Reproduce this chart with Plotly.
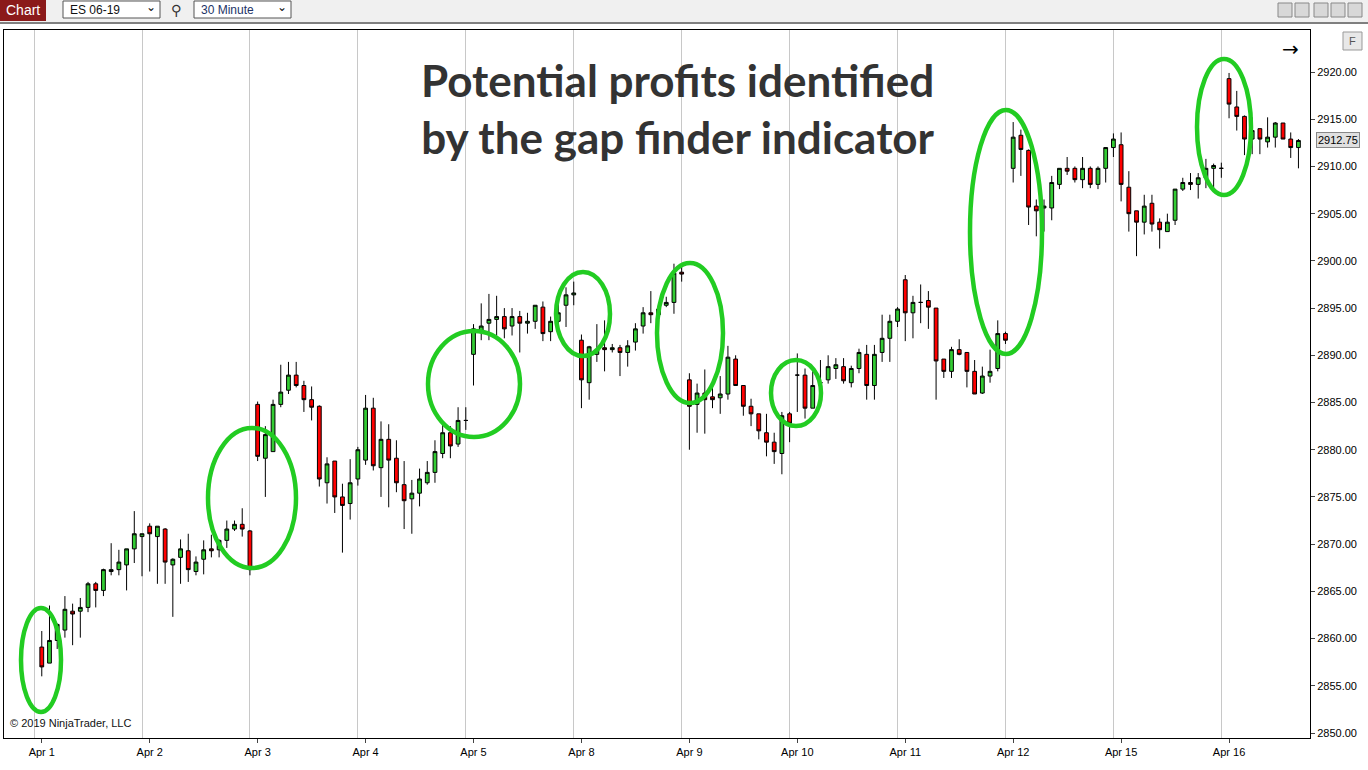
import plotly.graph_objects as go

days = ["Apr 1","Apr 2","Apr 3","Apr 4","Apr 5","Apr 8","Apr 9","Apr 10","Apr 11","Apr 12","Apr 15","Apr 16"]
bars_per_day = 14

opens = [2859.1,2857.4,2859.8,2860.9,2862.9,2862.9,2863.3,2865.8,2865.1,2867.1,2867.3,2867.8,2869.5,2870.8,
2871.9,2870.8,2871.6,2867.8,2868.6,2869.3,2867.1,2868.4,2869.5,2869.4,2870.4,2871.6,2872.1,2871.4,
2884.8,2879.1,2879.8,2884.8,2886.3,2887.9,2886.8,2885.3,2884.6,2876.5,2878.8,2875.0,2874.3,2876.9,
2878.9,2884.4,2878.1,2881.1,2879.1,2876.3,2874.8,2875.4,2876.5,2877.6,2879.6,2881.8,2880.6,2883.1,
2890.1,2892.5,2893.4,2893.8,2894.1,2893.1,2894.1,2893.4,2893.6,2895.1,2892.5,2893.6,2895.3,2896.4,
2891.6,2887.1,2890.1,2890.8,2890.6,2890.8,2890.3,2891.4,2893.1,2894.5,2894.3,2895.3,2895.6,2898.8,
2887.4,2884.8,2886.0,2885.6,2885.5,2885.9,2889.6,2886.8,2884.6,2883.8,2881.8,2880.8,2879.6,2883.8,
2887.9,2887.9,2884.4,2887.1,2887.4,2888.6,2888.8,2887.1,2888.6,2890.1,2886.8,2890.3,2891.8,2893.6,
2898.0,2894.5,2895.6,2895.8,2895.0,2889.6,2888.3,2890.6,2890.3,2888.3,2886.0,2887.8,2888.6,2892.3,
2909.8,2913.3,2911.7,2905.8,2905.6,2905.6,2908.1,2909.8,2909.8,2908.6,2909.8,2908.1,2909.8,2912.0,
2912.3,2907.8,2905.3,2904.1,2906.1,2904.1,2903.1,2904.3,2907.6,2908.3,2908.1,2908.8,2909.8,2909.8,
2919.3,2916.3,2915.3,2912.9,2914.0,2912.6,2913.1,2914.6,2912.9,2912.0]

highs = [2860.8,2863.5,2861.6,2864.5,2863.7,2864.3,2866.0,2866.0,2867.4,2870.1,2869.4,2869.5,2873.5,2871.1,
2872.2,2871.9,2871.7,2868.5,2870.5,2871.1,2868.7,2870.4,2871.0,2870.5,2872.5,2872.5,2873.8,2871.5,
2885.1,2882.5,2885.3,2889.0,2889.3,2889.3,2887.3,2886.7,2884.7,2879.2,2878.8,2876.4,2879.0,2880.3,
2885.8,2885.5,2883.0,2882.7,2881.0,2878.8,2876.8,2878.0,2878.8,2881.0,2882.7,2882.5,2884.5,2884.5,
2893.3,2895.5,2896.5,2896.3,2895.0,2895.0,2894.7,2894.5,2895.3,2895.7,2894.1,2895.5,2897.2,2897.8,
2892.2,2891.0,2893.3,2893.7,2891.2,2891.1,2891.6,2893.4,2895.1,2896.8,2895.6,2896.2,2899.7,2899.7,
2888.1,2887.0,2888.5,2887.0,2887.8,2891.0,2890.0,2886.8,2885.4,2883.8,2883.8,2881.8,2884.0,2884.0,
2890.2,2888.6,2888.3,2889.5,2890.0,2889.7,2889.7,2888.9,2890.7,2891.1,2891.1,2894.3,2894.3,2895.1,
2898.5,2896.3,2897.5,2896.8,2895.0,2889.6,2890.9,2891.7,2890.3,2889.5,2888.8,2890.6,2893.7,2892.5,
2914.7,2913.9,2911.8,2906.5,2906.5,2909.0,2909.8,2911.0,2910.0,2911.0,2910.0,2910.0,2912.0,2913.5,
2913.6,2909.5,2905.3,2907.0,2907.0,2904.5,2905.0,2907.6,2908.8,2909.3,2909.3,2910.8,2910.3,2910.4,
2919.9,2918.0,2915.4,2915.2,2914.0,2915.2,2914.7,2914.6,2913.6,2912.9]

lows = [2856.0,2857.4,2858.9,2860.1,2859.3,2860.1,2862.8,2863.3,2864.5,2866.7,2866.7,2865.1,2868.0,2866.6,
2867.1,2865.8,2865.8,2862.3,2865.8,2866.0,2866.7,2866.8,2868.6,2868.6,2869.6,2871.4,2870.8,2866.7,
2878.8,2875.0,2879.8,2884.5,2885.9,2886.6,2884.0,2883.1,2876.1,2874.3,2873.3,2869.1,2872.6,2876.2,
2878.4,2877.8,2875.0,2873.9,2875.5,2871.6,2871.1,2874.0,2876.3,2876.5,2879.1,2879.1,2880.3,2882.1,
2886.8,2891.6,2891.6,2892.1,2891.8,2892.1,2890.3,2892.3,2892.8,2891.5,2891.5,2892.8,2893.0,2895.3,
2884.4,2885.3,2889.3,2888.3,2890.3,2887.8,2888.8,2890.5,2892.3,2893.4,2893.5,2895.1,2894.4,2897.8,
2880.0,2881.8,2881.7,2884.4,2883.8,2885.3,2886.8,2883.6,2882.5,2881.1,2879.3,2878.5,2877.4,2880.8,
2884.0,2883.3,2884.4,2886.3,2887.0,2887.5,2887.0,2886.6,2888.1,2885.3,2885.3,2889.3,2889.3,2893.0,
2891.5,2891.8,2893.4,2892.8,2885.3,2887.6,2887.6,2890.0,2886.6,2885.9,2885.9,2887.1,2888.3,2891.2,
2908.3,2909.0,2903.8,2902.6,2903.1,2904.3,2907.6,2909.1,2908.3,2907.7,2907.7,2907.6,2908.3,2911.0,
2906.3,2903.1,2900.5,2902.8,2903.1,2901.3,2903.1,2903.8,2907.4,2907.5,2906.6,2907.7,2907.7,2908.8,
2915.1,2913.8,2911.2,2911.3,2911.3,2912.0,2912.0,2912.9,2910.9,2909.8]

closes = [2857.0,2859.8,2861.5,2863.1,2862.6,2863.3,2865.8,2865.1,2867.3,2867.3,2868.1,2869.5,2871.1,2871.1,
2871.1,2871.9,2868.1,2868.4,2869.5,2867.3,2868.1,2869.4,2869.3,2870.4,2871.6,2872.1,2871.6,2867.3,
2879.3,2881.6,2884.8,2886.1,2887.9,2886.8,2885.3,2884.5,2876.9,2878.5,2875.0,2874.1,2876.5,2880.0,
2884.4,2878.3,2881.1,2878.9,2876.5,2874.6,2875.4,2876.9,2877.6,2879.8,2881.8,2880.4,2883.1,2883.1,
2892.8,2893.1,2893.8,2894.1,2892.8,2894.1,2893.4,2893.6,2895.3,2892.3,2893.6,2894.5,2896.4,2896.6,
2887.4,2890.9,2890.5,2890.6,2890.8,2890.3,2891.0,2892.8,2894.5,2894.3,2894.9,2895.6,2898.7,2898.6,
2884.6,2886.0,2885.3,2885.3,2885.9,2889.8,2886.8,2884.6,2883.8,2882.0,2880.8,2879.8,2883.6,2882.8,
2887.9,2884.4,2886.8,2887.1,2888.8,2889.0,2887.3,2888.6,2890.3,2886.8,2890.1,2891.8,2893.6,2894.9,
2894.5,2895.6,2895.6,2895.1,2889.4,2888.3,2890.6,2890.1,2888.3,2885.9,2887.8,2888.3,2892.3,2891.6,
2913.1,2911.8,2905.7,2905.3,2905.8,2908.3,2909.8,2909.5,2908.6,2909.8,2908.1,2909.8,2912.0,2912.9,
2908.1,2905.0,2904.1,2905.8,2903.9,2903.3,2904.1,2907.6,2908.3,2908.1,2908.8,2909.8,2910.1,2909.8,
2916.6,2915.3,2912.9,2913.8,2912.9,2913.1,2914.6,2912.9,2912.0,2912.75]

last_price = 2912.75
y_ticks = list(range(2850, 2921, 5))

x = list(range(len(opens)))
fig = go.Figure(go.Candlestick(
    x=x, open=opens, high=highs, low=lows, close=closes,
    increasing=dict(line=dict(color="black", width=1), fillcolor="#33CC33"),
    decreasing=dict(line=dict(color="black", width=1), fillcolor="#FF0000"),
    whiskerwidth=0, showlegend=False, hoverinfo="skip"))

L, R, T, B = 4, 1310, 30, 738
W, H = 1368, 770
def px(xp): return (xp - L) / (R - L)
def py(yp): return (B - yp) / (B - T)

ellipses = [(41,660,20,52),(252,498,44,70),(474,384,46,53),(583,314,27,42),
            (690,333,33,70),(796,393,25,33),(1006,232,36,122),(1224,127,27,68)]
shapes = []
for cx, cy, rx, ry in ellipses:
    shapes.append(dict(type="circle", xref="paper", yref="paper",
                       x0=px(cx-rx), x1=px(cx+rx), y0=py(cy+ry), y1=py(cy-ry),
                       line=dict(color="#22CC22", width=4.5)))
shapes += [
    dict(type="rect", xref="paper", yref="paper", x0=px(0), x1=px(1368), y0=py(22), y1=py(0),
         fillcolor="#F0F0F0", line=dict(width=0), layer="below"),
    dict(type="rect", xref="paper", yref="paper", x0=px(0), x1=px(46), y0=py(21), y1=py(0),
         fillcolor="#8B1A1A", line=dict(width=0)),
    dict(type="rect", xref="paper", yref="paper", x0=px(63), x1=px(160), y0=py(18), y1=py(1),
         fillcolor="white", line=dict(color="#555", width=1)),
    dict(type="rect", xref="paper", yref="paper", x0=px(194), x1=px(291), y0=py(18), y1=py(1),
         fillcolor="white", line=dict(color="#555", width=1)),
    dict(type="line", xref="paper", yref="paper", x0=px(0), x1=px(1368), y0=py(23), y1=py(23),
         line=dict(color="#000", width=1)),
    dict(type="rect", xref="paper", yref="paper", x0=px(1343), x1=px(1362), y0=py(50), y1=py(32),
         fillcolor="#E8E8E8", line=dict(color="#999", width=1)),
]
for bx in (1278, 1295, 1314, 1331, 1348):
    shapes.append(dict(type="rect", xref="paper", yref="paper", x0=px(bx), x1=px(bx+14),
                       y0=py(17), y1=py(3), fillcolor="#D8D8D8", line=dict(color="#888", width=1)))

def A(text, xp, yp, xa="center", **kw):
    d = dict(text=text, xref="paper", yref="paper", x=px(xp), y=py(yp), xanchor=xa,
             yanchor="middle", showarrow=False)
    d.update(kw)
    return d

ann = [
    A("<b>Potential profits identified<br>by the gap finder indicator</b>", 678, 108,
      font=dict(family="Lato", size=44, color="#333333"), align="center"),
    A("© 2019 NinjaTrader, LLC", 8, 723, "left", font=dict(family="Liberation Sans", size=11, color="#111")),
    A("Chart", 23, 10, font=dict(family="Liberation Sans", size=14, color="white")),
    A("ES 06-19", 68, 10, "left", font=dict(family="Liberation Sans", size=12, color="#111")),
    A("⌄", 151, 7, font=dict(family="DejaVu Sans", size=12, color="#111")),
    A("30 Minute", 199, 10, "left", font=dict(family="Liberation Sans", size=12, color="#223366")),
    A("⌄", 282, 7, font=dict(family="DejaVu Sans", size=12, color="#111")),
    A("⚲", 176, 10, font=dict(family="DejaVu Sans", size=14, color="#333")),
    A("F", 1352, 41, font=dict(family="Liberation Sans", size=11, color="#555")),
    A("→", 1290, 49, font=dict(family="DejaVu Sans", size=20, color="#000")),
    dict(text=f"{last_price:.2f}", x=1, xref="paper", y=last_price, yref="y", xanchor="left",
         yanchor="middle", xshift=6, showarrow=False, bgcolor="#E0E0E0", bordercolor="#888", borderpad=1,
         font=dict(family="Liberation Sans", size=11, color="#000")),
]

tick_idx = [i * bars_per_day for i in range(len(days))]
fig.update_layout(
    width=W, height=H, margin=dict(l=L, r=W-R, t=T, b=H-B),
    paper_bgcolor="white", plot_bgcolor="white", shapes=shapes, annotations=ann,
    xaxis=dict(rangeslider=dict(visible=False), range=[-4.9, 164.5], tickmode="array",
               tickvals=tick_idx, ticktext=days, showgrid=False, ticks="outside", ticklen=4,
               tickfont=dict(family="Liberation Sans", size=11, color="#000"),
               showline=True, linecolor="black", mirror=True, zeroline=False,
               minor=dict(tick0=-1, dtick=bars_per_day, showgrid=True, gridcolor="#C8C8C8", gridwidth=1, ticks="")),
    yaxis=dict(side="right", range=[2849.47, 2924.45], tickvals=y_ticks, tickformat=".2f",
               showgrid=False, ticks="outside", ticklen=4, showline=True, linecolor="black", mirror=True,
               tickfont=dict(family="Liberation Sans", size=11, color="#000"), zeroline=False),
)
fig.write_html("out.html", config={"displayModeBar": False},
               post_script="document.body.style.margin='0';document.body.style.padding='0';")
